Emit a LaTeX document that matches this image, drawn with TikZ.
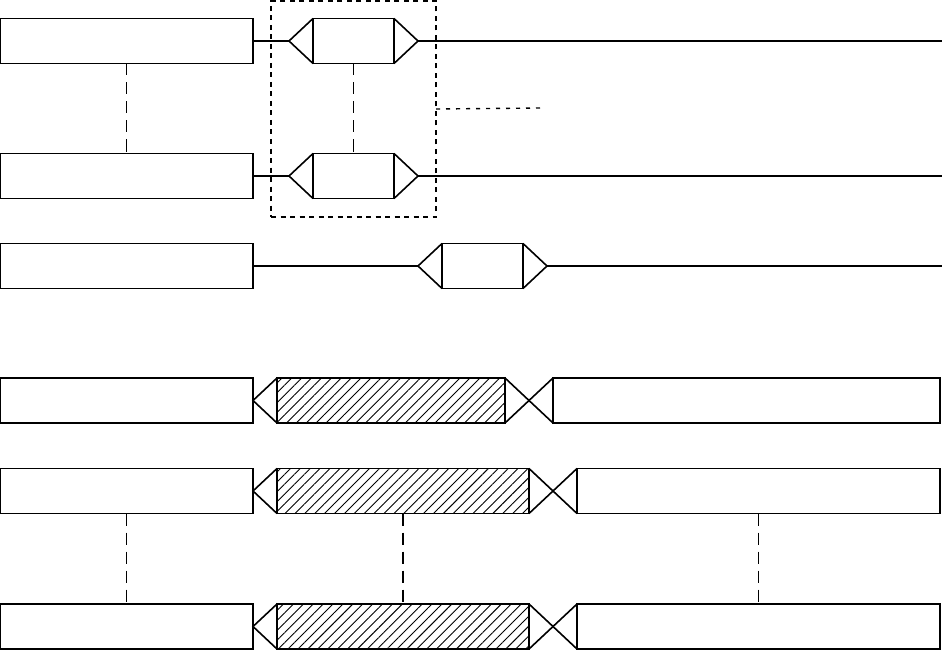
\documentclass[tikz,border=0pt]{standalone}
\usetikzlibrary{positioning, patterns.meta}

\tikzset{
  frame/.style={draw, line width=1.6pt, inner sep=0pt, outer sep=0pt, minimum height=45pt},
  lbox/.style={frame, minimum width=253pt},
  core/.style={frame, minimum width=81pt},
  hatch/.style={frame, pattern={Lines[angle=45, distance=7pt, line width=0.9pt]}},
  wire/.style={line width=1.6pt},
  link/.style={line width=1.6pt, dash pattern=on 12pt off 7pt},
  grpbox/.style={draw, line width=1.4pt, dash pattern=on 5pt off 4.5pt, inner sep=0pt, outer sep=0pt},
  hint/.style={line width=1.4pt, dash pattern=on 4pt off 6pt}
}

\begin{document}
\begin{tikzpicture}[x=1pt, y=-1pt]
  \useasboundingbox (0,0) rectangle (942,650);

  % ── upper part: left boxes ──
  \node[lbox] (l1) at (126.5,41) {};
  \node[lbox] (l2) at (126.5,176) {};
  \node[lbox] (l3) at (126.5,266) {};

  % ── hexagons ──
  \node[core] (c1) at (353.5,41) {};
  \node[core] (c2) at (353.5,176) {};
  \node[core] (c3) at (482.5,266) {};
  \foreach \n in {1,2,3} {
    \coordinate[left=24pt of c\n] (c\n l);
    \coordinate[right=24pt of c\n] (c\n r);
    \draw[wire] (c\n.north west) -- (c\n l) -- (c\n.south west);
    \draw[wire] (c\n.north east) -- (c\n r) -- (c\n.south east);
    \draw[wire] (l\n.east) -- (c\n l);
  }
  \coordinate (e1) at (942,41);
  \coordinate (e2) at (942,176);
  \coordinate (e3) at (942,266);
  \draw[wire] (c1r) -- (e1);
  \draw[wire] (c2r) -- (e2);
  \draw[wire] (c3r) -- (e3);

  % ── dashed links, group frame ──
  \draw[link] (l1.south) -- (l2.north);
  \draw[link] (c1.south) -- (c2.north);
  \node[grpbox, minimum width=165pt, minimum height=216pt] (grp) at (353.5,109) {};
  \coordinate (g1) at (541,108);
  \draw[hint] (grp.east) -- (g1);

  % ── lower part ──
  \node[lbox] (l4) at (126.5,400.5) {};
  \node[lbox] (l5) at (126.5,491) {};
  \node[lbox] (l6) at (126.5,626.5) {};
  \node[hatch, minimum width=228pt] (h4) at (391,400.5) {};
  \node[hatch, minimum width=252pt] (h5) at (403,491) {};
  \node[hatch, minimum width=252pt] (h6) at (403,626.5) {};
  \node[frame, minimum width=387pt] (r4) at (746.5,400.5) {};
  \node[frame, minimum width=363pt] (r5) at (758.5,491) {};
  \node[frame, minimum width=363pt] (r6) at (758.5,626.5) {};
  \foreach \n in {4,5,6} {
    \draw[wire] (h\n.north west) -- (l\n.east) -- (h\n.south west);
    \draw[wire] (h\n.north east) -- (r\n.south west);
    \draw[wire] (h\n.south east) -- (r\n.north west);
  }
  \draw[link] (l5.south) -- (l6.north);
  \draw[link] (h5.south) -- (h6.north);
  \draw[link] (r5.south) -- (r6.north);
\end{tikzpicture}
\end{document}
